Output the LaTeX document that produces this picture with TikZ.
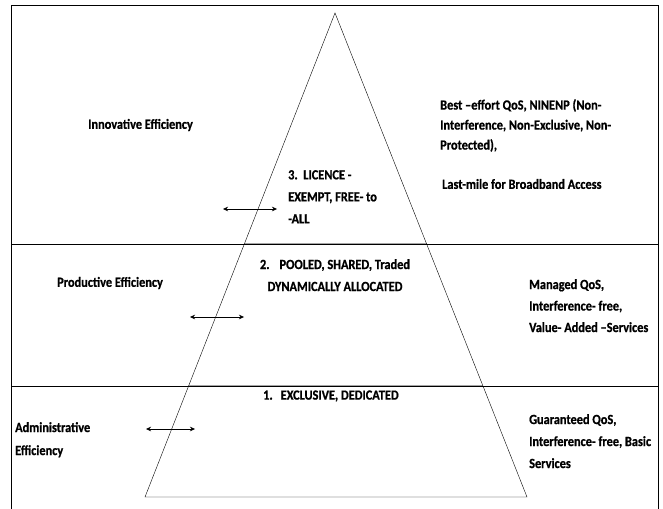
\documentclass[tikz,border=0pt]{standalone}
\usepackage{fontspec}
\setmainfont{Carlito}[FakeStretch=0.88, BoldFeatures={FakeBold=0.8}]
\usetikzlibrary{arrows.meta}

\begin{document}
\begin{tikzpicture}[x=1pt, y=-1pt, >={Stealth[length=5pt, width=4.5pt]},
  lbl/.style={font=\bfseries\fontsize{14}{22}\selectfont, inner sep=0pt, align=left, anchor=north west}]
	% page and frame
	\useasboundingbox (0,0) rectangle (663,508);
	\draw[line width=0.8pt] (11,510) -- (11,5) -- (658,5) -- (658,510);
	
	% pyramid
	\coordinate (apex) at (335,13);
	\coordinate (bl) at (145,497);
	\coordinate (br) at (527,497);
	\draw (bl) -- (apex) -- (br) -- cycle;
	
	% band boundaries
	\coordinate (upL) at (11,244);
	\coordinate (upR) at (658,244);
	\coordinate (loL) at (11,386);
	\coordinate (loR) at (658,386);
	\draw (upL) -- (upR);
	\draw (loL) -- (loR);
	\draw[line width=0.9pt] (intersection of apex--bl and upL--upR) -- (intersection of apex--br and upL--upR);
	\draw[line width=0.9pt] (intersection of apex--bl and loL--loR) -- (intersection of apex--br and loL--loR);
	
	% top band
	\node[lbl, anchor=west] (innov) at (88,125) {Innovative Efficiency};
	\node[lbl] (lic) at (288,170) {3.\ \ LICENCE -\\EXEMPT, FREE- to\\-ALL};
	\node[lbl, font=\bfseries\fontsize{14}{20}\selectfont] (best) at (440,99) {Best –effort QoS, NINENP (Non-\\Interference, Non-Exclusive, Non-\\Protected),};
	\node[lbl, anchor=west] (last) at (442,184) {Last-mile for Broadband Access};
	\coordinate (licL) at (223,209);
	\coordinate (licR) at (277,209);
	\draw[<->] (licL) -- (licR);
	
	% middle band
	\node[lbl, anchor=west] (prod) at (57,283) {Productive Efficiency};
	\node[lbl, anchor=north, align=center] (pool) at (335,259) {2.\hspace{10pt}POOLED, SHARED, Traded\\DYNAMICALLY ALLOCATED};
	\node[lbl, font=\bfseries\fontsize{14}{21.5}\selectfont] (managed) at (529,279) {Managed QoS,\\Interference- free,\\Value- Added –Services};
	\coordinate (poolL) at (190,317);
	\coordinate (poolR) at (244,317);
	\draw[<->] (poolL) -- (poolR);
	
	% bottom band
	\node[lbl, anchor=west] (excl) at (263,396) {1.\hspace{8pt}EXCLUSIVE, DEDICATED};
	\node[lbl, font=\bfseries\fontsize{14}{23}\selectfont] (admin) at (15,422) {Administrative\\Efficiency};
	\node[lbl] (guar) at (529,414) {Guaranteed QoS,\\Interference- free, Basic\\Services};
	\coordinate (exclL) at (146,429);
	\coordinate (exclR) at (195,429);
	\draw[<->] (exclL) -- (exclR);
\end{tikzpicture}
\end{document}
